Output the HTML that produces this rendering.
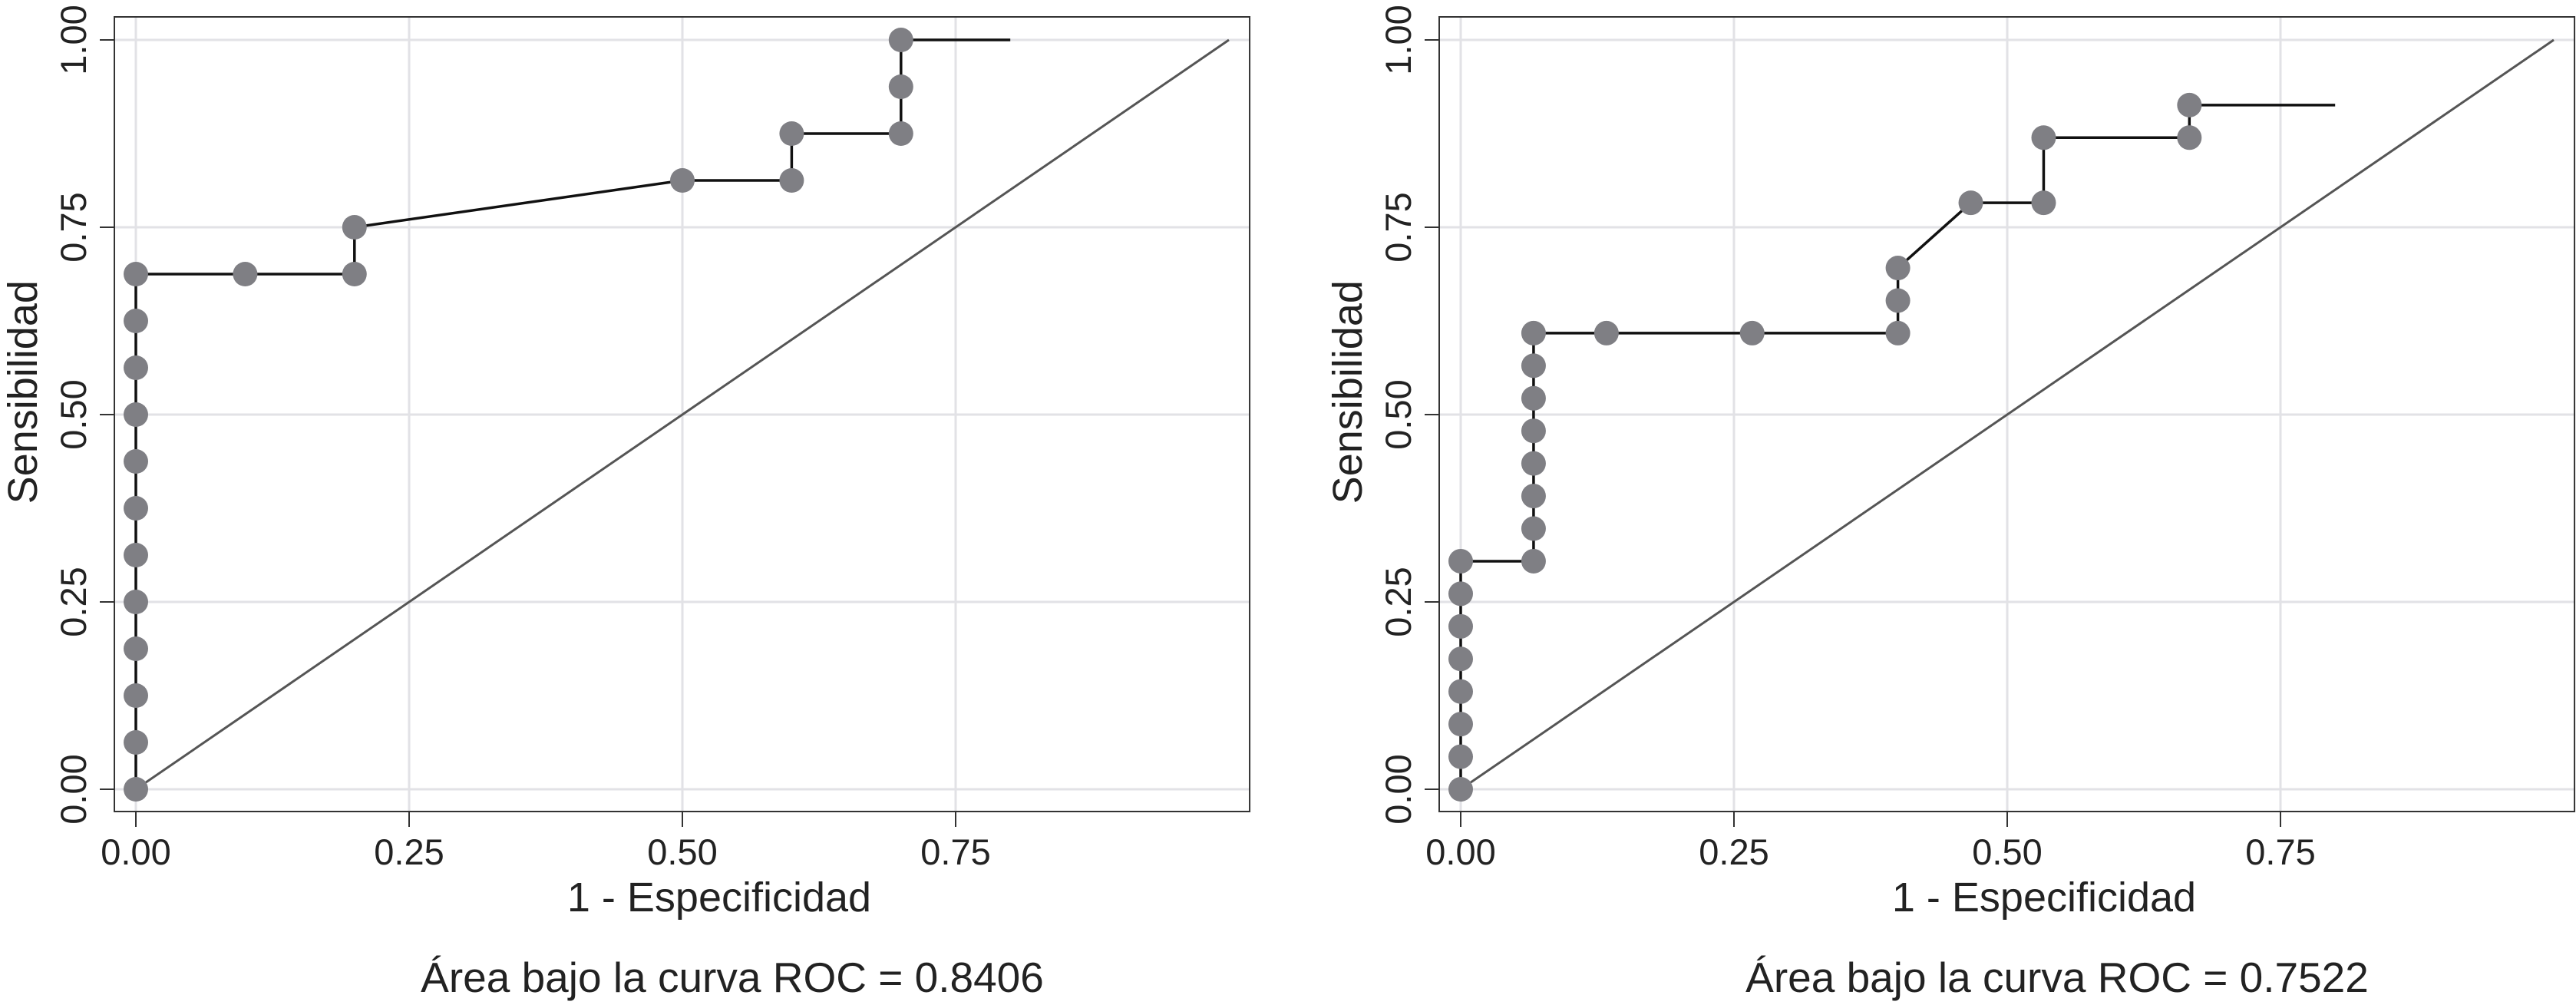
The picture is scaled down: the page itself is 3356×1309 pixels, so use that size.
<!DOCTYPE html>
<html><head><meta charset="utf-8"><style>
html,body{margin:0;padding:0;background:#fff;}
svg{display:block;font-family:"Liberation Sans",Arial,sans-serif;}
</style></head><body>
<svg id="chart" width="3356" height="1309" viewBox="0 0 3356 1309" xmlns="http://www.w3.org/2000/svg"></svg>
<script>
const tickValues = [0, 0.25, 0.5, 0.75];
const tickLabels = ["0.00", "0.25", "0.50", "0.75"];
const yTickValues = [0, 0.25, 0.5, 0.75, 1];
const yTickLabels = ["0.00", "0.25", "0.50", "0.75", "1.00"];
const leftX = [0,0,0,0,0,0,0,0,0,0,0,0,0.1,0.2,0.2,0.5,0.6,0.6,0.7,0.7,0.7];
const leftY = [0,1/16,2/16,3/16,4/16,5/16,6/16,7/16,8/16,9/16,10/16,11/16,11/16,11/16,12/16,13/16,13/16,14/16,14/16,15/16,1];
const leftEnd = [0.8, 1];
const leftTitle = "Área bajo la curva ROC = 0.8406";
const rightX = [0,0,0,0,0,0,0,0,1/15,1/15,1/15,1/15,1/15,1/15,1/15,1/15,2/15,4/15,6/15,6/15,6/15,7/15,8/15,8/15,10/15,10/15];
const rightY = [0,1/23,2/23,3/23,4/23,5/23,6/23,7/23,7/23,8/23,9/23,10/23,11/23,12/23,13/23,14/23,14/23,14/23,14/23,15/23,16/23,18/23,18/23,20/23,20/23,21/23];
const rightEnd = [0.8, 21/23];
const rightTitle = "Área bajo la curva ROC = 0.7522";

const NS = "http://www.w3.org/2000/svg";
const svg = document.getElementById('chart');
function mk(tag, attrs, parent){
  const e = document.createElementNS(NS, tag);
  for (const k in attrs) e.setAttribute(k, attrs[k]);
  (parent||svg).appendChild(e);
  return e;
}
function panel(off, name, xs, ys, end, title){
  const g = mk('g', {});
  
  
  const x0 = 177 + off, ux = 1424, y0 = 1028, uy = 976;
  const X = v => x0 + v*ux, Y = v => y0 - v*uy;
  const fl = 149 + off, fr = x0 + 1.019*ux, ft = 22, fb = 1057;
  tickValues.forEach(v => {
    const l = mk('line', {x1:X(v), x2:X(v), y1:ft, y2:fb, stroke:'#e2e2e6', 'stroke-width':3}, g);
    
    
  });
  yTickValues.forEach(v => {
    const l = mk('line', {x1:fl, x2:fr, y1:Y(v), y2:Y(v), stroke:'#e2e2e6', 'stroke-width':3}, g);
    
    
  });
  const fr_ = mk('rect', {x:fl, y:ft, width:fr-fl, height:fb-ft, fill:'none', stroke:'#333', 'stroke-width':2}, g);
  
  
  tickValues.forEach((v,i) => {
    mk('line', {x1:X(v), x2:X(v), y1:fb, y2:fb+20, stroke:'#333', 'stroke-width':2}, g);
    const t = mk('text', {x:X(v), y:1126, 'font-size':47, 'text-anchor':'middle', fill:'#222'}, g);
    
    
    t.textContent = tickLabels[i];
  });
  yTickValues.forEach((v,i) => {
    mk('line', {x1:fl-19, x2:fl, y1:Y(v), y2:Y(v), stroke:'#333', 'stroke-width':2}, g);
    const t = mk('text', {x:0, y:0, 'font-size':47, 'text-anchor':'middle', fill:'#222', transform:`translate(${112+off},${Y(v)}) rotate(-90)`}, g);
    
    
    t.textContent = yTickLabels[i];
  });
  const d = mk('line', {x1:X(0), y1:Y(0), x2:X(1), y2:Y(1), stroke:'#555', 'stroke-width':3}, g);
  
  
  let pts = xs.map((v,i) => X(v)+','+Y(ys[i]));
  pts.push(X(end[0])+','+Y(end[1]));
  const pl = mk('polyline', {points:pts.join(' '), fill:'none', stroke:'#111', 'stroke-width':3.5}, g);
  
  
  xs.forEach((v,i) => {
    const c = mk('circle', {cx:X(v), cy:Y(ys[i]), r:16, fill:'#7f7f84'}, g);
    
    
  });
  const xl = mk('text', {x:X(0.5)+48, y:1187, 'font-size':54, 'text-anchor':'middle', fill:'#222'}, g);
  
  
  xl.textContent = '1 - Especificidad';
  const yl = mk('text', {x:0, y:0, 'font-size':54, 'text-anchor':'middle', fill:'#222', transform:`translate(${48+off},${Y(0.53)}) rotate(-90)`}, g);
  
  
  yl.textContent = 'Sensibilidad';
  const tt = mk('text', {x:X(0.5)+65, y:1292, 'font-size':55, 'text-anchor':'middle', fill:'#222'}, g);
  
  
  tt.textContent = title;
}
panel(0, 'left-roc-panel', leftX, leftY, leftEnd, leftTitle);
panel(1726, 'right-roc-panel', rightX, rightY, rightEnd, rightTitle);
</script>
</body></html>
